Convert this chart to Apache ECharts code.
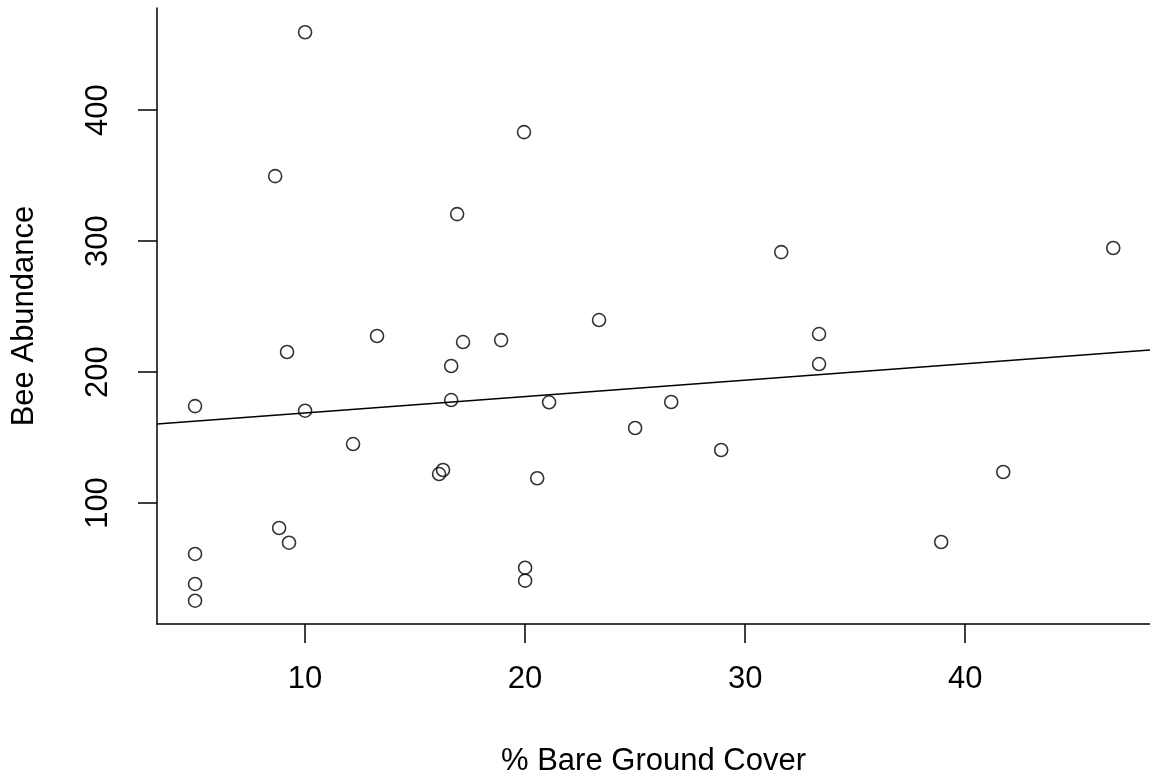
<!DOCTYPE html>
<html>
<head>
<meta charset="utf-8">
<title>Bee Abundance vs % Bare Ground Cover</title>
<script src="https://cdn.jsdelivr.net/npm/echarts@6/dist/echarts.min.js"></script>
<style>
  html, body { margin: 0; padding: 0; background: #fff; }
  #chart { width: 1150px; height: 780px; }
</style>
</head>
<body>
<div id="chart"></div>
<script>
// % bare ground cover per site
const bareGround = [
  5.0, 5.0, 5.0, 5.0, 8.82, 9.27, 8.64, 9.18, 10.0, 10.0,
  12.18, 13.27, 16.09, 16.27, 16.64, 16.64, 16.91, 17.18, 18.91, 19.95,
  20.0, 20.0, 20.55, 21.09, 23.36, 25.0, 26.64, 28.91, 31.64, 33.36,
  33.36, 38.91, 41.73, 46.73
]
// bee abundance per site
const beeAbundance = [
  25.4, 38.2, 61.1, 174.0, 80.9, 69.7, 349.6, 215.3, 459.5, 170.5,
  145.0, 227.5, 122.1, 125.2, 204.6, 178.6, 320.6, 222.9, 224.4, 383.2,
  50.6, 40.7, 118.9, 176.9, 239.7, 157.3, 177.1, 140.5, 291.6, 229.0,
  206.1, 70.2, 123.7, 294.7
]
// fitted line, read at the plot edges
const fitX = [3.27, 48.4]
const fitY = [160.3, 216.8]

const xTicks = [10, 20, 30, 40]
const yTicks = [100, 200, 300, 400]

const font = '"Liberation Sans", Arial, sans-serif'

const chart = echarts.init(document.getElementById('chart'), null, { renderer: 'canvas' })

chart.setOption({
  animation: false,
  backgroundColor: '#fff',
  grid: {
    left: 157,
    right: 0,
    top: 8,
    bottom: 156,
    outerBoundsMode: 'none'
  },
  xAxis: {
    type: 'value',
    min: 3.27,
    max: 48.4,
    name: '% Bare Ground Cover',
    nameLocation: 'middle',
    nameGap: 122,
    nameTextStyle: { fontFamily: font, fontSize: 31, color: '#000' },
    axisLine: { show: true, onZero: false, lineStyle: { color: '#000', width: 1.5 } },
    axisTick: { show: true, length: 19, customValues: xTicks, lineStyle: { color: '#000', width: 1.5 } },
    axisLabel: { customValues: xTicks, margin: 40, fontFamily: font, fontSize: 31, color: '#000' },
    splitLine: { show: false }
  },
  yAxis: {
    type: 'value',
    min: 7.6,
    max: 478,
    name: 'Bee Abundance',
    nameLocation: 'middle',
    nameGap: 117,
    nameTextStyle: { fontFamily: font, fontSize: 31, color: '#000' },
    axisLine: { show: true, onZero: false, lineStyle: { color: '#000', width: 1.5 } },
    axisTick: { show: true, length: 19, customValues: yTicks, lineStyle: { color: '#000', width: 1.5 } },
    axisLabel: { customValues: yTicks, rotate: 90, margin: 43, fontFamily: font, fontSize: 31, color: '#000' },
    splitLine: { show: false }
  },
  series: [
    {
      type: 'scatter',
      data: bareGround.map((x, i) => [x, beeAbundance[i]]),
      symbol: 'circle',
      symbolSize: 13,
      itemStyle: { color: 'transparent', borderColor: '#000', borderWidth: 1.6 }
    },
    {
      type: 'line',
      data: fitX.map((x, i) => [x, fitY[i]]),
      showSymbol: false,
      lineStyle: { color: '#000', width: 1.5 }
    }
  ]
})
</script>
</body>
</html>
